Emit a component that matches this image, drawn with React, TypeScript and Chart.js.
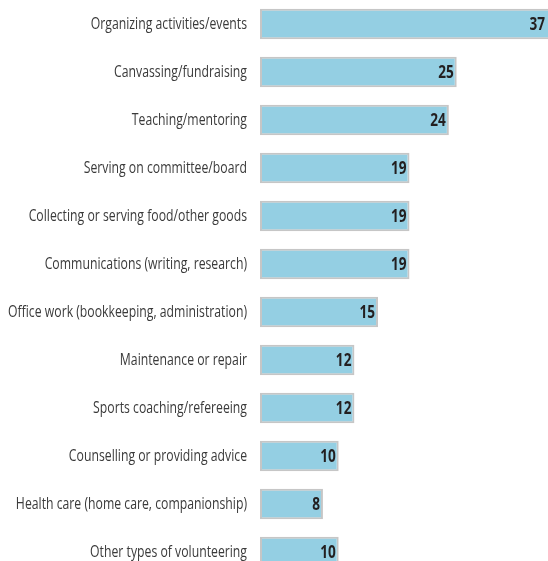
import React, { useEffect, useRef } from "react";
import { Chart, registerables } from "chart.js";

Chart.register(...registerables);

const categories = [
  "Organizing activities/events",
  "Canvassing/fundraising",
  "Teaching/mentoring",
  "Serving on committee/board",
  "Collecting or serving food/other goods",
  "Communications (writing, research)",
  "Office work (bookkeeping, administration)",
  "Maintenance or repair",
  "Sports coaching/refereeing",
  "Counselling or providing advice",
  "Health care (home care, companionship)",
  "Other types of volunteering",
];
const values = [37, 25, 24, 19, 19, 19, 15, 12, 12, 10, 8, 10];

const FONT = '"Open Sans", "Noto Sans", sans-serif';

const textPlugin = {
  id: "textPlugin",
  afterDatasetsDraw(chart: any) {
    const ctx = chart.ctx;
    const meta = chart.getDatasetMeta(0);
    meta.data.forEach((bar: any, i: number) => {
      ctx.save();
      ctx.font = `17px ${FONT}`;
      ctx.fillStyle = "#3a3a3a";
      ctx.textAlign = "right";
      ctx.textBaseline = "middle";
      ctx.translate(247, bar.y);
      ctx.scale(0.72, 1);
      ctx.fillText(categories[i], 0, 0);
      ctx.restore();

      ctx.save();
      ctx.font = `bold 17px ${FONT}`;
      ctx.fillStyle = "#231f20";
      ctx.textAlign = "right";
      ctx.textBaseline = "middle";
      const right = Math.min(bar.x, chart.chartArea.right) - 3;
      ctx.translate(right, bar.y + 1);
      ctx.scale(0.8, 1);
      ctx.fillText(String(values[i]), 0, 0);
      ctx.restore();
    });
  },
};

export default function App() {
  const ref = useRef<HTMLCanvasElement | null>(null);
  useEffect(() => {
    document.body.style.margin = "0";
    const chart = new Chart(ref.current!, {
      type: "bar",
      data: {
        labels: categories,
        datasets: [
          {
            data: values,
            backgroundColor: "#94cfe3",
            borderColor: "#c6c6c6",
            borderWidth: 2,
            borderSkipped: false,
            barPercentage: 0.64,
            categoryPercentage: 1,
          },
        ],
      },
      options: {
        indexAxis: "y",
        animation: false,
        responsive: false,
        maintainAspectRatio: false,
        layout: { padding: { left: 260, right: 0, top: 0, bottom: 0 } },
        plugins: { legend: { display: false }, tooltip: { enabled: false } },
        scales: {
          x: { display: false, min: 0, max: 36.6 },
          y: { display: false },
        },
      },
      plugins: [textPlugin],
    });
    return () => chart.destroy();
  }, []);
  return (
    <div style={{ position: "absolute", left: 0, top: 0, width: 548, height: 576 }}>
      <canvas ref={ref} width={548} height={576} />
    </div>
  );
}
